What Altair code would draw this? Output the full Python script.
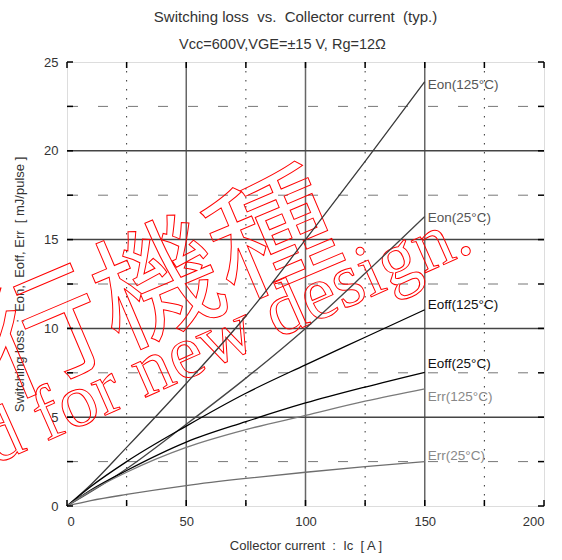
import altair as alt
import pandas as pd

# ---- data ----
current = [0, 10, 25, 50, 75, 100, 125, 150]
eon_125 = [0, 1.2, 3.3, 6.9, 10.7, 15.0, 19.4, 23.9]
eon_25 = [0, 0.8, 2.1, 4.6, 7.2, 10.0, 13.1, 16.3]
eoff_125 = [0, 1.1, 2.5, 4.5, 6.35, 7.95, 9.5, 11.05]
eoff_25 = [0, 0.9, 2.0, 3.6, 4.75, 5.8, 6.7, 7.53]
err_125 = [0, 0.85, 1.9, 3.3, 4.3, 5.1, 5.9, 6.6]
err_25 = [0, 0.3, 0.65, 1.15, 1.55, 1.9, 2.22, 2.5]

series_names = ["Eon(125°C)", "Eon(25°C)", "Eoff(125°C)", "Eoff(25°C)", "Err(125°C)", "Err(25°C)"]
series_colors = ["#3a3a3a", "#444444", "#000000", "#000000", "#7a7a7a", "#6e6e6e"]
series_widths = [1.3, 1.3, 2.2, 2.2, 1.7, 1.5]
label_y = [23.73, 16.24, 11.3, 7.97, 6.15, 2.83]
label_colors = ["#555555", "#555555", "#111111", "#111111", "#888888", "#888888"]

x_labels = [0, 50, 100, 150, 200]
y_labels = [0, 5, 10, 15, 20, 25]
x_major = [50, 100, 150]
x_minor = [25, 75, 125, 175]
y_major = [5, 10, 15, 20]
y_minor = [2.5, 7.5, 12.5, 17.5, 22.5]
x_ticks = [0, 25, 50, 75, 100, 125, 150, 175, 200]
y_ticks = [0, 2.5, 5, 7.5, 10, 12.5, 15, 17.5, 20, 22.5, 25]

title_text = "Switching loss\u00a0\u00a0vs.\u00a0\u00a0Collector current\u00a0\u00a0(typ.)"
subtitle_text = "Vcc=600V,VGE=±15\u00a0V,\u00a0Rg=12Ω"
x_title = "Collector current\u00a0\u00a0:\u00a0\u00a0Ic\u00a0\u00a0[ A ]"
y_title = "Switching loss\u00a0\u00a0:\u00a0\u00a0Eon,\u00a0\u00a0Eoff, Err\u00a0\u00a0[ mJ/pulse ]"

wm_en = "Not recommended for new design."
wm_jp = "行機種"

# ---- tables ----
all_values = [eon_125, eon_25, eoff_125, eoff_25, err_125, err_25]
rows = []
for name, vals in zip(series_names, all_values):
    for c, v in zip(current, vals):
        rows.append({"series": name, "Ic": c, "E": v})
lines_df = pd.DataFrame(rows)

labels_df = pd.DataFrame({
    "series": series_names,
    "Ic": [150] * 6,
    "E": label_y,
})

W, H = 477, 444
FONT = "Liberation Sans"
xs = alt.Scale(domain=[0, 200], nice=False, zero=False)
ys = alt.Scale(domain=[0, 25], nice=False, zero=False)
axis_style = dict(grid=False, domain=False, ticks=False,
                  labelFont=FONT, labelFontSize=13, labelColor="#333333",
                  titleFont=FONT, titleFontSize=13, titleFontWeight="normal",
                  titleColor="#333333")
xaxis = alt.Axis(values=x_labels, labelPadding=9, titlePadding=11, **axis_style)
yaxis = alt.Axis(values=y_labels, labelPadding=9, titlePadding=17, **axis_style)


def X(field):
    return alt.X(field, scale=xs, axis=xaxis, title=x_title)


def Y(field):
    return alt.Y(field, scale=ys, axis=yaxis, title=y_title)


# grid
minor_x = alt.Chart(pd.DataFrame({"v": x_minor})).mark_rule(
    color="#333333", strokeWidth=1, strokeDash=[1.5, 7.5]
).encode(x=X("v:Q"))
minor_y = alt.Chart(pd.DataFrame({"v": y_minor})).mark_rule(
    color="#777777", strokeWidth=1, strokeDash=[10, 20], strokeDashOffset=14
).encode(y=Y("v:Q"))
major_x = alt.Chart(pd.DataFrame({"v": x_major})).mark_rule(
    color="#666666", strokeWidth=1.5
).encode(x=X("v:Q"))
major_y = alt.Chart(pd.DataFrame({"v": y_major})).mark_rule(
    color="#444444", strokeWidth=1.5
).encode(y=Y("v:Q"))

# inward ticks
tdf_x = pd.DataFrame({"v": x_ticks})
tdf_y = pd.DataFrame({"v": y_ticks})
tick_bottom = alt.Chart(tdf_x).mark_rule(color="black", strokeWidth=1.5).encode(
    x=X("v:Q"), y=alt.value(H), y2=alt.value(H - 6))
tick_top = alt.Chart(tdf_x).mark_rule(color="black", strokeWidth=1.5).encode(
    x=X("v:Q"), y=alt.value(0), y2=alt.value(6))
tick_left = alt.Chart(tdf_y).mark_rule(color="black", strokeWidth=1.5).encode(
    y=Y("v:Q"), x=alt.value(0), x2=alt.value(6))
tick_right = alt.Chart(tdf_y).mark_rule(color="black", strokeWidth=1.5).encode(
    y=Y("v:Q"), x=alt.value(W), x2=alt.value(W - 6))

# watermark
wm1 = alt.Chart(pd.DataFrame({"t": [wm_en], "x": [171.4], "y": [14.4]})).mark_text(
    font="Liberation Serif", fontSize=76, align="right", baseline="alphabetic",
    angle=336, stroke="red", strokeWidth=1, fillOpacity=0
).encode(x=X("x:Q"), y=Y("y:Q"), text="t:N")
wm2 = alt.Chart(pd.DataFrame({"t": [wm_jp], "x": [111.0], "y": [16.3]})).mark_text(
    font="Noto Sans CJK JP", fontSize=125, align="right", baseline="middle",
    angle=337, stroke="red", strokeWidth=1, fillOpacity=0
).encode(x=X("x:Q"), y=Y("y:Q"), text="t:N")

# curves
lines = alt.Chart(lines_df).mark_line(interpolate="monotone").encode(
    x=X("Ic:Q"),
    y=Y("E:Q"),
    color=alt.Color("series:N", scale=alt.Scale(domain=series_names, range=series_colors), legend=None),
    strokeWidth=alt.StrokeWidth("series:N", scale=alt.Scale(domain=series_names, range=series_widths), legend=None),
    detail="series:N",
)

labels = alt.Chart(labels_df).mark_text(
    align="left", baseline="middle", dx=3, font=FONT, fontSize=13.5
).encode(
    x=X("Ic:Q"),
    y=Y("E:Q"),
    text="series:N",
    color=alt.Color("series:N", scale=alt.Scale(domain=series_names, range=label_colors), legend=None),
)

subtitle = alt.Chart(pd.DataFrame({"t": [subtitle_text]})).mark_text(
    font=FONT, fontSize=14.5, color="#333333", align="center", baseline="middle"
).encode(x=alt.value(282.5 - 67), y=alt.value(45 - 62), text="t:N")

chart = alt.layer(
    minor_x, minor_y, major_x, major_y, wm1, wm2, lines, labels,
    tick_bottom, tick_top, tick_left, tick_right, subtitle,
).resolve_scale(color="independent").properties(
    width=W, height=H,
    autosize=alt.AutoSizeParams(type="none"),
    padding={"left": 67, "top": 62, "right": 18, "bottom": 54},
    title=alt.TitleParams(
        text=title_text,
        font=FONT, fontSize=15, fontWeight="normal", color="#333333",
        offset=12, anchor="middle", dx=-10,
    ),
).configure_view(stroke="black", strokeWidth=2).configure(background="white")

chart.save("out.html", embed_options={"renderer": "svg", "actions": False})
